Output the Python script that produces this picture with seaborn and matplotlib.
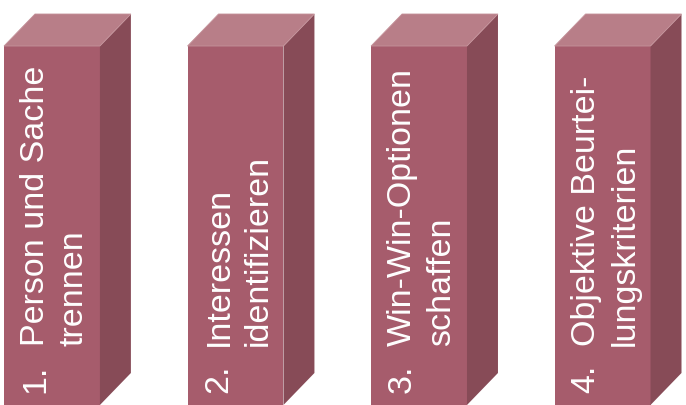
import matplotlib
matplotlib.use("Agg")
import matplotlib.pyplot as plt
import seaborn as sns
import pandas as pd
from matplotlib.patches import Polygon

# ---- data ----
numbers = ["1.", "2.", "3.", "4."]
categories = ["Person und Sache trennen", "Interessen identifizieren",
              "Win-Win-Optionen schaffen", "Objektive Beurteilungskriterien"]
line1 = ["Person und Sache", "Interessen", "Win-Win-Optionen", "Objektive Beurtei-"]
line2 = ["trennen", "identifizieren", "schaffen", "lungskriterien"]
heights = [1.0, 1.0, 1.0, 1.0]

# ---- style ----
FRONT = "#A65C6C"
TOP = "#B87E88"
SIDE = "#874B57"

W, H = 686, 406
fig = plt.figure(figsize=(W / 100, H / 100), dpi=100)
ax = fig.add_axes([0, 0, 1, 1])

df = pd.DataFrame({"cat": categories, "h": heights})
PX_X = 183.67          # pixels per category step
PX_Y = 359.0           # pixels per unit height
bw = 96 / PX_X
sns.barplot(data=df, x="cat", y="h", width=bw, color=FRONT, saturation=1,
            ax=ax, linewidth=0)
ax.set_xlim(-52 / PX_X, 3 + (W - 602.5) / PX_X)
ax.set_ylim(0, H / PX_Y)
ax.axis("off")

dx = 31 / PX_X
dy = 32 / PX_Y

for i, p in enumerate(list(ax.patches)):
    x0 = p.get_x()
    w = p.get_width()
    h = p.get_height()
    x1 = x0 + w
    top = Polygon([(x0, h), (x1, h), (x1 + dx, h + dy), (x0 + dx, h + dy)],
                  closed=True, facecolor=TOP, edgecolor="#C4929A", linewidth=0.6)
    side = Polygon([(x1, 0), (x1 + dx, dy), (x1 + dx, h + dy), (x1, h)],
                   closed=True, facecolor=SIDE, edgecolor="none")
    ax.add_patch(side)
    ax.add_patch(top)

    kw = dict(rotation=90, rotation_mode="anchor", ha="left", va="baseline",
              color="white", fontsize=24.5, family="Liberation Sans")
    ax.text(x0 + 40 / PX_X, 13 / PX_Y, numbers[i], **kw)
    ax.text(x0 + 40 / PX_X, 60 / PX_Y, line1[i], **kw)
    ax.text(x0 + 79 / PX_X, 60 / PX_Y, line2[i], **kw)

fig.savefig("out.png", dpi=100)
